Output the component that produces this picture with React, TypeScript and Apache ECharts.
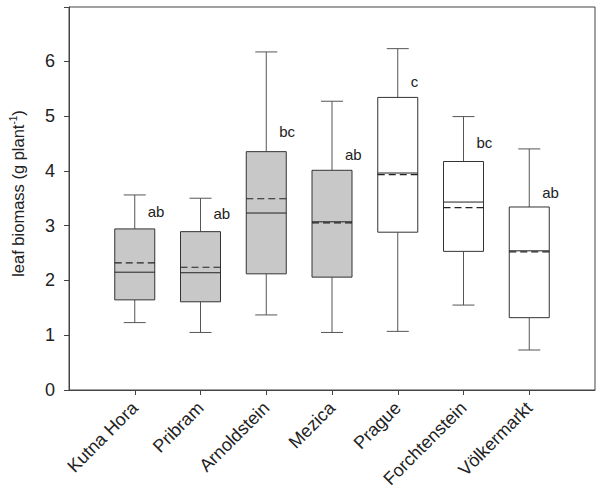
import React, { useEffect, useRef } from "react";
import * as echarts from "echarts";

const categories = ["Kutna Hora", "Pribram", "Arnoldstein", "Mezica", "Prague", "Forchtenstein", "Völkermarkt"];
const whiskerLow = [1.23, 1.05, 1.37, 1.05, 1.07, 1.55, 0.73];
const q1 = [1.645, 1.61, 2.12, 2.06, 2.88, 2.53, 1.32];
const median = [2.15, 2.14, 3.23, 3.07, 3.96, 3.43, 2.54];
const q3 = [2.94, 2.89, 4.35, 4.01, 5.34, 4.17, 3.34];
const whiskerHigh = [3.56, 3.5, 6.17, 5.27, 6.23, 4.99, 4.4];
const means = [2.32, 2.24, 3.49, 3.05, 3.93, 3.33, 2.52];
const letters = ["ab", "ab", "bc", "ab", "c", "bc", "ab"];
const letterY = [3.25, 3.22, 4.72, 4.3, 5.63, 4.52, 3.6];
const shaded = [true, true, true, true, false, false, false];
const yTicks = [0, 1, 2, 3, 4, 5, 6];

const FONT = "'Liberation Sans', Arial, sans-serif";

export default function App() {
  const ref = useRef<HTMLDivElement>(null);
  useEffect(() => {
    document.body.style.margin = "0";
    if (!ref.current) return;
    const chart = echarts.init(ref.current, null, { renderer: "svg" });
    const axisCategories = ["", ...categories, ""];
    const data = categories.map((_, i) => [
      i + 1,
      whiskerLow[i],
      q1[i],
      median[i],
      q3[i],
      whiskerHigh[i],
      means[i],
      letterY[i],
    ]);
    const stroke = "#333";
    const whiskerColor = "#555";
    chart.setOption({
      animation: false,
      grid: {
        left: 63,
        right: 5,
        top: 7,
        bottom: 101,
        show: true,
        borderColor: "#444",
        borderWidth: 1,
        backgroundColor: "transparent",
      },
      xAxis: {
        type: "category",
        data: axisCategories,
        boundaryGap: false,
        axisLine: { show: true, lineStyle: { color: "#444", width: 1 } },
        axisTick: {
          show: true,
          length: 5,
          inside: false,
          interval: (idx: number) => idx > 0 && idx < axisCategories.length - 1,
          lineStyle: { color: "#444" },
        },
        axisLabel: {
          interval: 0,
          rotate: 45,
          fontSize: 18,
          margin: 15,
          color: "#222",
          fontFamily: FONT,
        },
        splitLine: { show: false },
      },
      yAxis: {
        type: "value",
        min: 0,
        max: 6.99,
        interval: 1,
        axisLine: { show: true, lineStyle: { color: "#444", width: 1 } },
        axisTick: { show: true, length: 5, inside: false, lineStyle: { color: "#444" } },
        axisLabel: {
          fontSize: 18,
          margin: 14,
          color: "#222",
          fontFamily: FONT,
          formatter: (v: number) => (yTicks.includes(v) ? String(v) : ""),
        },
        splitLine: { show: false },
        name: "{a|leaf biomass (g plant}{s|-1}{a|)}",
        nameLocation: "middle",
        nameGap: 41,
        nameRotate: 90,
        nameTextStyle: {
          padding: [0, 0, 0, 10],
          rich: {
            a: { fontSize: 16.5, fontFamily: FONT, color: "#222", lineHeight: 20 },
            s: { fontSize: 10, fontFamily: FONT, color: "#222", lineHeight: 10, verticalAlign: "top" },
          },
        },
      },
      series: [
        {
          type: "custom",
          data,
          encode: { x: 0, y: [1, 2, 3, 4, 5] },
          renderItem: (params: any, api: any) => {
            const idx = params.dataIndex;
            const c = api.value(0);
            const x = api.coord([c, 0])[0];
            const yv = (k: number) => api.coord([c, api.value(k)])[1];
            const yLow = yv(1), yQ1 = yv(2), yMed = yv(3), yQ3 = yv(4), yHigh = yv(5), yMean = yv(6), yLet = yv(7);
            const half = 20;
            const cap = 11;
            const ls = { stroke: whiskerColor, lineWidth: 1 };
            return {
              type: "group",
              children: [
                { type: "line", shape: { x1: x, y1: yQ3, x2: x, y2: yHigh }, style: ls },
                { type: "line", shape: { x1: x, y1: yQ1, x2: x, y2: yLow }, style: ls },
                { type: "line", shape: { x1: x - cap, y1: yHigh, x2: x + cap, y2: yHigh }, style: ls },
                { type: "line", shape: { x1: x - cap, y1: yLow, x2: x + cap, y2: yLow }, style: ls },
                {
                  type: "rect",
                  shape: { x: x - half, y: yQ3, width: half * 2, height: yQ1 - yQ3 },
                  style: { fill: shaded[idx] ? "#c8c8c8" : "#ffffff", stroke, lineWidth: 1 },
                },
                {
                  type: "line",
                  shape: { x1: x - half, y1: yMed, x2: x + half, y2: yMed },
                  style: { stroke: "#222", lineWidth: 1 },
                },
                {
                  type: "line",
                  shape: { x1: x - half, y1: yMean, x2: x + half, y2: yMean },
                  style: { stroke: "#222", lineWidth: 1.2, lineDash: [7, 4] },
                },
                {
                  type: "text",
                  style: {
                    text: letters[idx],
                    x: x + 13,
                    y: yLet,
                    fill: "#222",
                    fontSize: 15,
                    fontFamily: FONT,
                    align: "left",
                    verticalAlign: "middle",
                  },
                },
              ],
            };
          },
        },
      ],
    });
    return () => chart.dispose();
  }, []);
  return <div ref={ref} style={{ width: 600, height: 491 }} />;
}
